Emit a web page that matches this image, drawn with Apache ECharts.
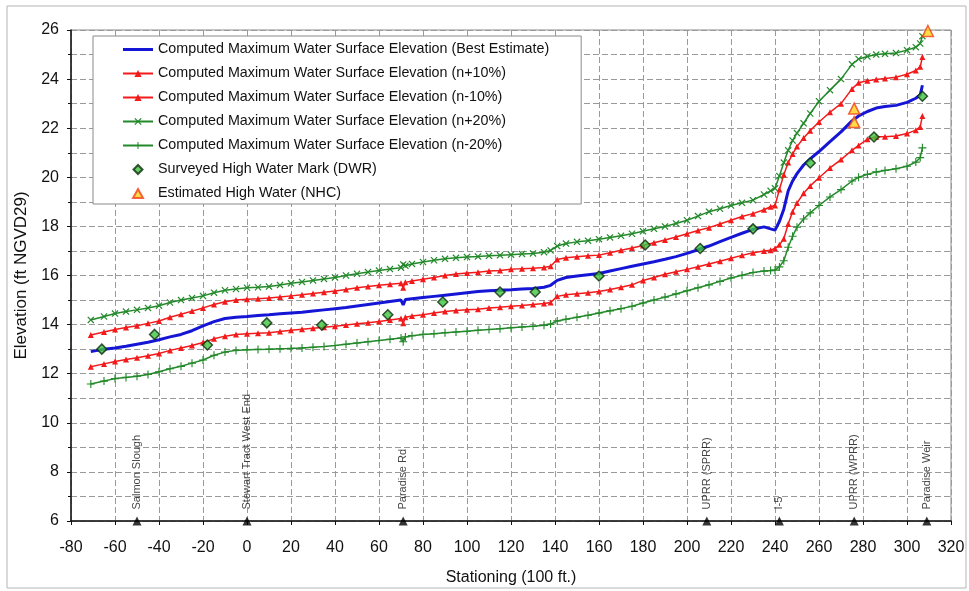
<!DOCTYPE html>
<html>
<head>
<meta charset="utf-8">
<script src="https://cdn.jsdelivr.net/npm/echarts@6/dist/echarts.min.js"></script>
<style>
  html, body { margin: 0; padding: 0; background: #fff; }
  #chart { width: 969px; height: 591px; }
</style>
</head>
<body>
<div id="chart"></div>
<script>
// stationing (100 ft) shared by the computed profiles
const stations = [
  -71, -65, -60, -55, -50, -45, -40, -35, -30, -25,
  -20, -15, -10, -5, 0, 5, 10, 15, 20, 25,
  30, 35, 40, 45, 50, 55, 60, 65, 70, 71,
  72, 75, 80, 85, 90, 95, 100, 105, 110, 115,
  120, 125, 130, 135, 138, 141, 145, 150, 155, 160,
  165, 170, 175, 180, 185, 190, 195, 200, 205, 210,
  215, 220, 225, 230, 235, 238, 240, 242, 244, 246,
  248, 250, 253, 256, 260, 265, 270, 275, 278, 282,
  286, 290, 295, 300, 304, 306, 307
];

const bestEstimate = [
  12.9, 13.0, 13.05, 13.12, 13.2, 13.28, 13.38, 13.5, 13.6, 13.75,
  13.95, 14.12, 14.25, 14.3, 14.33, 14.37, 14.4, 14.44, 14.47, 14.5,
  14.55, 14.6, 14.65, 14.7, 14.76, 14.82, 14.88, 14.94, 15.0, 14.8,
  15.02, 15.05, 15.1, 15.15, 15.2, 15.25, 15.3, 15.35, 15.38, 15.4,
  15.42, 15.45, 15.47, 15.52, 15.6, 15.8, 15.92, 15.98, 16.03, 16.08,
  16.18, 16.28, 16.38, 16.47, 16.56, 16.66, 16.77, 16.9, 17.05, 17.2,
  17.38, 17.55, 17.72, 17.88, 17.98, 17.9, 17.85, 18.2, 18.7, 19.45,
  19.85, 20.15, 20.5, 20.75, 21.05, 21.45, 21.85, 22.3, 22.5, 22.68,
  22.82, 22.88, 22.93, 23.05, 23.22, 23.35, 23.75
];

const nPlus10 = [
  13.58, 13.7, 13.8, 13.88, 13.95, 14.05, 14.15, 14.3, 14.42, 14.55,
  14.68, 14.82, 14.93, 15.0, 15.03, 15.05, 15.08, 15.12, 15.17, 15.22,
  15.27, 15.32, 15.37, 15.43, 15.5, 15.55, 15.6, 15.64, 15.68, 15.5,
  15.72, 15.78, 15.85, 15.92, 16.0, 16.06, 16.1, 16.13, 16.18, 16.2,
  16.25, 16.28, 16.3, 16.33, 16.38, 16.65, 16.72, 16.76, 16.8, 16.83,
  16.93, 17.03, 17.12, 17.22, 17.33, 17.45, 17.57, 17.7, 17.83, 17.95,
  18.1, 18.25, 18.4, 18.52, 18.68, 18.8, 18.85, 19.5, 20.1, 20.6,
  20.95, 21.25, 21.6, 21.9, 22.25, 22.65, 23.0, 23.6, 23.85, 23.93,
  23.98, 24.02, 24.08, 24.2, 24.35, 24.5, 24.9
];

const nMinus10 = [
  12.28, 12.4, 12.5, 12.58, 12.65, 12.73, 12.82, 12.95, 13.05, 13.15,
  13.27, 13.42, 13.53, 13.6, 13.63, 13.65, 13.67, 13.72, 13.77, 13.81,
  13.85, 13.89, 13.93, 13.98, 14.03, 14.08, 14.13, 14.19, 14.25, 14.05,
  14.3, 14.35, 14.4, 14.47, 14.53, 14.57, 14.6, 14.63, 14.68, 14.71,
  14.75, 14.78, 14.82, 14.86, 14.9, 15.15, 15.22, 15.26, 15.3, 15.35,
  15.43, 15.52, 15.62, 15.8, 15.92, 16.05, 16.15, 16.25, 16.36, 16.47,
  16.58, 16.7, 16.82, 16.93, 17.0, 17.03, 17.1, 17.25, 17.5, 18.1,
  18.6, 18.95, 19.35, 19.65, 19.98, 20.38, 20.72, 21.1, 21.3, 21.55,
  21.65, 21.65, 21.68, 21.78, 21.92, 22.05, 22.5
];

const nPlus20 = [
  14.19, 14.33, 14.45, 14.53, 14.6, 14.68, 14.77, 14.9, 15.0, 15.08,
  15.17, 15.3, 15.4, 15.45, 15.5, 15.52, 15.55, 15.61, 15.68, 15.74,
  15.8, 15.86, 15.92, 16.0, 16.07, 16.14, 16.2, 16.26, 16.32, 16.45,
  16.4, 16.47, 16.55, 16.62, 16.68, 16.72, 16.75, 16.77, 16.8, 16.82,
  16.85, 16.88, 16.9, 16.95, 17.02, 17.2, 17.3, 17.37, 17.42, 17.48,
  17.55, 17.62, 17.7, 17.8, 17.9, 18.0, 18.12, 18.25, 18.42, 18.6,
  18.72, 18.85, 18.96, 19.07, 19.3, 19.45, 19.55, 20.05, 20.6, 21.1,
  21.5, 21.8, 22.2, 22.6, 23.1, 23.55, 24.0, 24.6, 24.82, 24.92,
  25.0, 25.03, 25.06, 25.18, 25.3, 25.45, 25.75
];

const nMinus20 = [
  11.58, 11.7, 11.8, 11.85, 11.9, 11.97, 12.08, 12.2, 12.3, 12.43,
  12.56, 12.75, 12.88, 12.95, 12.98, 12.99, 13.0, 13.02, 13.03, 13.05,
  13.08, 13.11, 13.15, 13.2, 13.25, 13.3, 13.35, 13.4, 13.45, 13.3,
  13.5, 13.55, 13.6, 13.63, 13.67, 13.7, 13.73, 13.77, 13.8, 13.83,
  13.87, 13.9, 13.93, 13.97, 14.02, 14.15, 14.22, 14.3, 14.38, 14.47,
  14.56, 14.65, 14.75, 14.88, 15.0, 15.12, 15.25, 15.38, 15.5, 15.62,
  15.76, 15.9, 16.01, 16.12, 16.18, 16.2, 16.22, 16.35, 16.6, 17.15,
  17.6, 17.97, 18.3, 18.55, 18.85, 19.2, 19.5, 19.85, 20.0, 20.12,
  20.22, 20.28, 20.35, 20.45, 20.62, 20.8, 21.2
];

const dwrStations = [-66, -42, -18, 9, 34, 64, 89, 115, 131, 160, 181, 206, 230, 256, 285, 307];
const dwrValues = [13.0, 13.6, 13.17, 14.07, 13.98, 14.4, 14.92, 15.33, 15.33, 15.98, 17.24, 17.1, 17.9, 20.58, 21.64, 23.3];

const nhcStations = [276, 276, 309.5];
const nhcValues = [22.8, 22.25, 25.96];

const landmarkNames = ['Salmon Slough', 'Stewart Tract West End', 'Paradise Rd', 'UPRR (SPRR)', 'I-5', 'UPRR (WPRR)', 'Paradise Weir'];
const landmarkStations = [-50, 0, 71, 209, 242, 276, 309];

const FONT = 'Liberation Sans, Arial, sans-serif';
const RED = '#f21a1a';
const GREEN = '#23892a';
const BLUE = '#1515d6';
const X_SYMBOL = 'path://M0,1.2L1.2,0L5,3.8L8.8,0L10,1.2L6.2,5L10,8.8L8.8,10L5,6.2L1.2,10L0,8.8L3.8,5Z';
const PLUS_SYMBOL = 'path://M4.3,0H5.7V4.3H10V5.7H5.7V10H4.3V5.7H0V4.3H4.3Z';

const NAMES = [
  'Computed Maximum Water Surface Elevation (Best Estimate)',
  'Computed Maximum Water Surface Elevation (n+10%)',
  'Computed Maximum Water Surface Elevation (n-10%)',
  'Computed Maximum Water Surface Elevation (n+20%)',
  'Computed Maximum Water Surface Elevation (n-20%)',
  'Surveyed High Water Mark (DWR)',
  'Estimated High Water (NHC)',
];

const pairs = (xs, ys) => xs.map((x, i) => [x, ys[i]]);

const gridLine = { show: true, lineStyle: { color: '#9a9a9a', width: 1, type: [6, 3] } };

const profile = (name, values, color, symbol, size, width) => ({
  name,
  type: 'line',
  data: pairs(stations, values),
  color,
  symbol,
  symbolSize: size,
  showAllSymbol: true,
  lineStyle: { color, width },
  itemStyle: { color },
  z: 3,
});

const chart = echarts.init(document.getElementById('chart'));

const options = {
  backgroundColor: '#fff',
  animation: false,
  textStyle: { fontFamily: FONT },
  grid: { left: 71, right: 18, top: 30, bottom: 70, show: true, borderColor: '#8a8a8a', borderWidth: 1 },
  legend: {
    orient: 'vertical',
    left: 93,
    top: 36,
    padding: [6, 32, 3, 29],
    itemWidth: 30,
    itemHeight: 9,
    itemGap: 9,
    backgroundColor: '#fff',
    borderColor: '#8a8a8a',
    borderWidth: 1,
    textStyle: { fontSize: 14.3, lineHeight: 15, color: '#111', fontFamily: FONT },
    data: [
      { name: NAMES[0], icon: 'path://M0,0H30V3H0Z' },
      NAMES[1],
      NAMES[2],
      NAMES[3],
      NAMES[4],
      { name: NAMES[5], icon: 'path://M5,0L10,5L5,10L0,5Z' },
      { name: NAMES[6], icon: 'path://M5,0L10,9L0,9Z' },
    ],
  },
  xAxis: {
    type: 'value',
    min: -80,
    max: 320,
    interval: 20,
    name: 'Stationing (100 ft.)',
    nameLocation: 'middle',
    nameGap: 49,
    nameTextStyle: { fontSize: 16, color: '#111' },
    axisLine: { onZero: false, lineStyle: { color: '#111', width: 1.5 } },
    axisTick: { show: true, length: 4, lineStyle: { color: '#111' } },
    axisLabel: { fontSize: 16, color: '#111', margin: 19 },
    splitLine: gridLine,
  },
  yAxis: {
    type: 'value',
    min: 6,
    max: 26,
    interval: 2,
    name: 'Elevation (ft NGVD29)',
    nameLocation: 'middle',
    nameGap: 38,
    nameTextStyle: { fontSize: 17, color: '#111' },
    axisLine: { show: true, onZero: false, lineStyle: { color: '#111', width: 1.5 } },
    axisTick: { show: true, length: 4, lineStyle: { color: '#111' } },
    minorTick: { show: true, splitNumber: 2, length: 3, lineStyle: { color: '#111' } },
    axisLabel: { fontSize: 16, color: '#111', margin: 12 },
    splitLine: gridLine,
    minorSplitLine: gridLine,
  },
  graphic: [{
    type: 'rect',
    shape: { x: 7, y: 6, width: 959, height: 582 },
    style: { fill: 'none', stroke: '#b4b4b4', lineWidth: 1 },
    silent: true,
  }],
  series: [
    profile(NAMES[0], bestEstimate, BLUE, 'none', 0, 3),
    profile(NAMES[1], nPlus10, RED, 'triangle', 6, 1.5),
    profile(NAMES[2], nMinus10, RED, 'triangle', 6, 1.5),
    profile(NAMES[3], nPlus20, GREEN, X_SYMBOL, 7, 1.5),
    profile(NAMES[4], nMinus20, GREEN, PLUS_SYMBOL, 8, 1.5),
    {
      name: NAMES[5],
      type: 'scatter',
      data: pairs(dwrStations, dwrValues),
      symbol: 'diamond',
      symbolSize: 10,
      itemStyle: { color: '#3fc43f', borderColor: '#0b2a0b', borderWidth: 1.5 },
      z: 5,
    },
    {
      name: NAMES[6],
      type: 'scatter',
      data: pairs(nhcStations, nhcValues),
      symbol: 'triangle',
      symbolSize: 11,
      clip: false,
      itemStyle: { color: '#ffd21a', borderColor: '#f0401a', borderWidth: 1.5 },
      z: 5,
    },
    {
      name: 'landmarks',
      type: 'scatter',
      data: landmarkStations.map((x, i) => ({ value: [x, 6], name: landmarkNames[i] })),
      symbol: 'triangle',
      symbolSize: 9,
      clip: false,
      itemStyle: { color: '#000' },
      label: {
        show: true,
        formatter: '{b}',
        position: 'top',
        distance: 7,
        rotate: 90,
        align: 'left',
        verticalAlign: 'middle',
        fontSize: 11,
        color: '#111',
      },
      z: 6,
    },
  ],
};

chart.setOption(options);
</script>
</body>
</html>
